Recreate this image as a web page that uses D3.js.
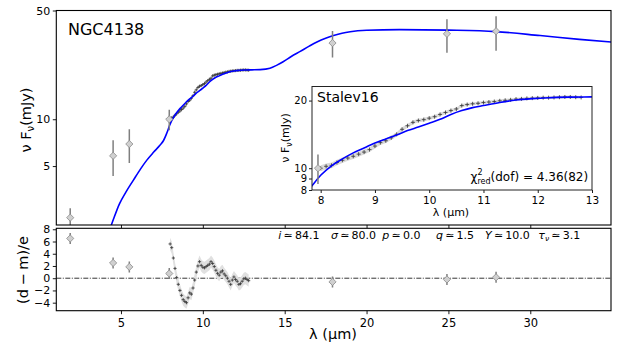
<!DOCTYPE html>
<html>
<head>
<meta charset="utf-8">
<title>NGC4138 SED</title>
<script src="https://d3js.org/d3.v7.min.js"></script>
<style>
    body { margin: 0; background: #fff; }
    text { font-family: "DejaVu Sans", sans-serif; fill: #000; }
</style>
</head>
<body>
<svg id="chart" width="623" height="346"></svg>
<script>
// photometry (lambda in micron, nuF_nu in mJy)
const photLam = [1.9, 4.52, 5.51, 7.95, 17.92, 24.91, 27.91]
const photFlux = [2.33, 5.82, 6.93, 10.0, 30.9, 35.4, 36.8]
const photErr = [0.35, 1.5, 1.7, 1.5, 6.0, 8.6, 9.2]
const photResid = [6.5, 2.5, 1.85, 0.77, -0.6, -0.2, 0.15]
const photResidErr = [0.9, 0.9, 0.9, 0.9, 0.9, 0.9, 0.9]

// Spitzer spectrum (Stalev16)
const specLam = [8.0, 8.1, 8.2, 8.3, 8.4, 8.5, 8.6, 8.7, 8.8, 8.9,
    9.0, 9.1, 9.2, 9.3, 9.4, 9.5, 9.6, 9.7, 9.8, 9.9,
    10.0, 10.1, 10.2, 10.3, 10.4, 10.5, 10.6, 10.7, 10.8, 10.9,
    11.0, 11.1, 11.2, 11.3, 11.4, 11.5, 11.6, 11.7, 11.8, 11.9,
    12.0, 12.1, 12.2, 12.3, 12.4, 12.5, 12.6, 12.7, 12.8]
const specFlux = [10.0, 10.2, 10.3, 10.6, 10.85, 11.1, 11.3, 11.55, 11.8, 12.1,
    12.55, 13.0, 13.25, 13.65, 14.15, 14.9, 15.45, 16.0, 16.3, 16.45,
    16.7, 16.95, 17.35, 17.7, 18.05, 18.35, 19.0, 19.2, 19.35, 19.45,
    19.6, 19.7, 19.8, 19.95, 20.05, 20.15, 20.3, 20.35, 20.45, 20.5,
    20.55, 20.6, 20.6, 20.65, 20.7, 20.75, 20.75, 20.7, 20.65]
const specErr = 0.3
const specResid = [5.6, 5.0, 3.3, 1.6, 0.1, -1.0, -2.0, -2.8, -3.5, -3.8,
    -4.0, -3.2, -2.4, -2.6, -1.6, -0.3, 1.0, 2.0, 2.7, 2.1,
    1.8, 1.7, 1.9, 2.1, 2.3, 2.7, 2.4, 1.9, 1.3, 0.8,
    0.5, 1.0, 1.2, 0.7, 0.4, 0.0, -0.5, -1.0, -0.3, 0.2,
    -0.2, -0.5, -1.0, -0.9, -0.5, -0.1, 0.0, -0.2, -0.4]

// best-fit model
const modelLam = [4.3, 4.44, 4.9, 5.3, 5.76, 6.2, 6.58, 7.0, 7.39, 7.6, 7.8, 8.0, 8.2, 8.4, 8.6, 8.8,
    9.0, 9.2, 9.4, 9.6, 9.8, 10.0, 10.2, 10.4, 10.6, 10.8, 11.0, 11.3, 11.6, 11.9, 12.2, 12.6,
    13.0, 13.5, 14.1, 14.5, 14.93, 15.4, 15.95, 16.5, 16.97, 17.5, 17.98, 18.5, 19.0, 20.0,
    22.0, 25.0, 27.9, 30.6, 33.0, 35.0]
const modelFlux = [1.95, 2.13, 2.85, 3.4, 4.06, 4.8, 5.46, 6.15, 6.82, 7.3, 8.15, 9.3, 10.25, 11.0, 11.7, 12.3,
    12.95, 13.5, 14.05, 14.7, 15.25, 15.85, 16.5, 17.35, 18.05, 18.6, 19.0, 19.6, 20.1, 20.4, 20.6, 20.72,
    20.77, 20.85, 21.3, 22.2, 23.5, 25.3, 27.3, 29.5, 31.4, 33.2, 34.5, 35.7, 36.5, 37.3,
    37.7, 37.4, 36.6, 34.5, 32.6, 31.3]

// fit parameters
const paramNames = ["i", "σ", "p", "q", "Y", "τ"]
const paramValues = ["84.1", "80.0", "0.0", "1.5", "10.0", "3.1"]

const topTicks = [5, 10, 50]
const resTicks = [-4, -2, 0, 2, 4, 6, 8]
const xTicks = [5, 10, 15, 20, 25, 30]
const inXTicks = [8, 9, 10, 11, 12, 13]
const inYTicks = [8, 9, 10, 20]

const svg = d3.select("#chart")

const x = d3.scaleLinear().domain([1.05, 34.93]).range([56.3, 611])
const yTop = d3.scaleLog().domain([2.09, 50]).range([225, 10.5])
const yRes = d3.scaleLinear().domain([-5.31, 8.16]).range([310.7, 228.3])
const xIn = d3.scaleLinear().domain([7.84, 13]).range([312, 592])
const yIn = d3.scaleLog().domain([8, 23.1]).range([190, 86.5])

const defs = svg.append("defs")
function addClip(id, x0, y0, x1, y1) {
    defs.append("clipPath").attr("id", id).append("rect")
        .attr("x", x0).attr("y", y0).attr("width", x1 - x0).attr("height", y1 - y0)
}
addClip("clipTop", 56.3, 10.5, 611, 225)
addClip("clipRes", 56.3, 228.3, 611, 310.7)
addClip("clipIn", 312, 86.5, 592, 190)

const diamond = r => `M0,${-r}L${r},0L0,${r}L${-r},0Z`
const plus = r => `M${-r},0H${r}M0,${-r}V${r}`

const phot = photLam.map((l, i) => ({ l, f: photFlux[i], e: photErr[i], r: photResid[i], re: photResidErr[i] }))
const spec = specLam.map((l, i) => ({ l, f: specFlux[i], r: specResid[i] }))
const model = modelLam.map((l, i) => ({ l, f: modelFlux[i] }))

function drawSed(g, xs, ys, clipId, markR, diaR) {
    const c = g.append("g").attr("clip-path", `url(#${clipId})`)
    c.append("path").datum(spec)
        .attr("fill", "#dadada")
        .attr("d", d3.area().x(d => xs(d.l)).y0(d => ys(d.f - specErr)).y1(d => ys(d.f + specErr)))
    c.selectAll(".sp").data(spec).enter().append("path")
        .attr("transform", d => `translate(${xs(d.l)},${ys(d.f)})`)
        .attr("d", plus(markR)).attr("stroke", "#333").attr("stroke-width", 0.8)
    c.append("path").datum(model)
        .attr("fill", "none").attr("stroke", "#0000ff").attr("stroke-width", 1.6)
        .attr("d", d3.line().x(d => xs(d.l)).y(d => ys(d.f)).curve(d3.curveMonotoneX))
    c.selectAll(".eb").data(phot).enter().append("line")
        .attr("x1", d => xs(d.l)).attr("x2", d => xs(d.l))
        .attr("y1", d => ys(Math.max(d.f - d.e, 0.5))).attr("y2", d => ys(d.f + d.e))
        .attr("stroke", "#7f7f7f").attr("stroke-width", 1.5)
    c.selectAll(".ph").data(phot).enter().append("path")
        .attr("transform", d => `translate(${xs(d.l)},${ys(d.f)})`)
        .attr("d", diamond(diaR)).attr("fill", "#d0d0d0").attr("stroke", "#8a8a8a").attr("stroke-width", 0.8)
}

function styleAxis(g, fs) {
    g.attr("font-family", null).attr("font-size", null)
    g.select(".domain").remove()
    g.selectAll(".tick line").attr("stroke", "#000").attr("stroke-width", 0.9)
    g.selectAll(".tick text").attr("font-size", fs).attr("fill", "#000")
}

// ---------- top panel ----------
const topG = svg.append("g")
drawSed(topG, x, yTop, "clipTop", 1.6, 3.6)
styleAxis(topG.append("g").attr("transform", "translate(56.3,0)")
    .call(d3.axisLeft(yTop).tickValues(topTicks).tickFormat(d3.format("d")).tickSize(3.5).tickPadding(2.5)), 11)
styleAxis(topG.append("g").attr("transform", "translate(0,225)")
    .call(d3.axisBottom(x).tickValues(xTicks).tickFormat("").tickSize(3)), 11)
topG.append("rect").attr("x", 56.3).attr("y", 10.5).attr("width", 611 - 56.3).attr("height", 225 - 10.5)
    .attr("fill", "none").attr("stroke", "#000").attr("stroke-width", 1.1)

topG.append("text").attr("x", 68).attr("y", 35).attr("font-size", 16).text("NGC4138")

const ylab = topG.append("text").attr("transform", "translate(31,120) rotate(-90)")
    .attr("text-anchor", "middle").attr("font-size", 14.5)
ylab.append("tspan").text("ν F")
ylab.append("tspan").attr("font-size", 10).attr("dy", 3).text("ν")
ylab.append("tspan").attr("dy", -3).text("(mJy)")

// ---------- inset ----------
const ins = svg.append("g")
ins.append("rect").attr("x", 312).attr("y", 86.5).attr("width", 280).attr("height", 103.5).attr("fill", "#fff")
drawSed(ins, xIn, yIn, "clipIn", 2, 3.6)
styleAxis(ins.append("g").attr("transform", "translate(312,0)")
    .call(d3.axisLeft(yIn).tickValues(inYTicks).tickFormat(d3.format("d")).tickSize(3).tickPadding(2)), 10)
styleAxis(ins.append("g").attr("transform", "translate(0,190)")
    .call(d3.axisBottom(xIn).tickValues(inXTicks).tickFormat(d3.format("d")).tickSize(3).tickPadding(4)), 10.5)
ins.append("rect").attr("x", 312).attr("y", 86.5).attr("width", 280).attr("height", 103.5)
    .attr("fill", "none").attr("stroke", "#222").attr("stroke-width", 1)
ins.append("text").attr("x", 317).attr("y", 102).attr("font-size", 14).text("Stalev16")

const iyl = ins.append("text").attr("transform", "translate(289,138) rotate(-90)")
    .attr("text-anchor", "middle").attr("font-size", 11)
iyl.append("tspan").text("ν F")
iyl.append("tspan").attr("font-size", 8).attr("dy", 2.5).text("ν")
iyl.append("tspan").attr("dy", -2.5).text("(mJy)")
ins.append("text").attr("x", 451).attr("y", 216).attr("text-anchor", "middle").attr("font-size", 11).text("λ (μm)")

const chi = ins.append("text").attr("x", 470.5).attr("y", 180.5).attr("font-size", 12)
chi.append("tspan").text("χ")
const sup = chi.append("tspan").attr("font-size", 8).attr("dy", -6).text("2")
const supW = sup.node().getComputedTextLength()
chi.append("tspan").attr("font-size", 8).attr("dx", -supW).attr("dy", 9).text("red")
chi.append("tspan").attr("dy", -3).text("(dof) = 4.36(82)")

// ---------- residual panel ----------
const res = svg.append("g")
const rc = res.append("g").attr("clip-path", "url(#clipRes)")
rc.append("line").attr("x1", 56.3).attr("x2", 611).attr("y1", yRes(0)).attr("y2", yRes(0))
    .attr("stroke", "#000").attr("stroke-width", 0.8).attr("stroke-dasharray", "5,1.5,1,1.5")
rc.append("path").datum(spec).attr("fill", "#e0e0e0")
    .attr("d", d3.area().x(d => x(d.l)).y0(d => yRes(d.r - 1)).y1(d => yRes(d.r + 1)))
rc.selectAll(".rs").data(spec).enter().append("path")
    .attr("transform", d => `translate(${x(d.l)},${yRes(d.r)})`)
    .attr("d", plus(1.6)).attr("stroke", "#333").attr("stroke-width", 0.8)
rc.selectAll(".re").data(phot).enter().append("line")
    .attr("x1", d => x(d.l)).attr("x2", d => x(d.l))
    .attr("y1", d => yRes(d.r - d.re)).attr("y2", d => yRes(d.r + d.re))
    .attr("stroke", "#7f7f7f").attr("stroke-width", 1.5)
rc.selectAll(".rp").data(phot).enter().append("path")
    .attr("transform", d => `translate(${x(d.l)},${yRes(d.r)})`)
    .attr("d", diamond(3.6)).attr("fill", "#d0d0d0").attr("stroke", "#8a8a8a").attr("stroke-width", 0.8)

styleAxis(res.append("g").attr("transform", "translate(56.3,0)")
    .call(d3.axisLeft(yRes).tickValues(resTicks).tickFormat(d3.format("d")).tickSize(3.5).tickPadding(2.5)), 11)
styleAxis(res.append("g").attr("transform", "translate(0,310.7)")
    .call(d3.axisBottom(x).tickValues(xTicks).tickFormat(d3.format("d")).tickSize(3.5).tickPadding(4.5)), 11.5)
res.append("rect").attr("x", 56.3).attr("y", 228.3).attr("width", 611 - 56.3).attr("height", 310.7 - 228.3)
    .attr("fill", "none").attr("stroke", "#000").attr("stroke-width", 1.1)

res.append("text").attr("transform", "translate(28,270) rotate(-90)")
    .attr("text-anchor", "middle").attr("font-size", 14.5).text("(d\u2005−\u2005m)/e")
res.append("text").attr("x", 333).attr("y", 338.5).attr("text-anchor", "middle")
    .attr("font-size", 14.5).text("λ (μm)")

// parameter string
const paramX = [278.3, 331, 382.3, 436, 485, 538.3]
paramNames.forEach((n, i) => {
    const t = res.append("text").attr("x", paramX[i]).attr("y", 239).attr("font-size", 11)
    t.append("tspan").attr("font-style", "italic").text(n)
    if (n === "τ") {
        t.append("tspan").attr("font-style", "italic").attr("font-size", 7.5).attr("dy", 2).text("ν")
        t.append("tspan").attr("dy", -2).text("\u2009≃\u2009" + paramValues[i])
    } else {
        t.append("tspan").text("\u2009≃\u2009" + paramValues[i])
    }
})
</script>
</body>
</html>
